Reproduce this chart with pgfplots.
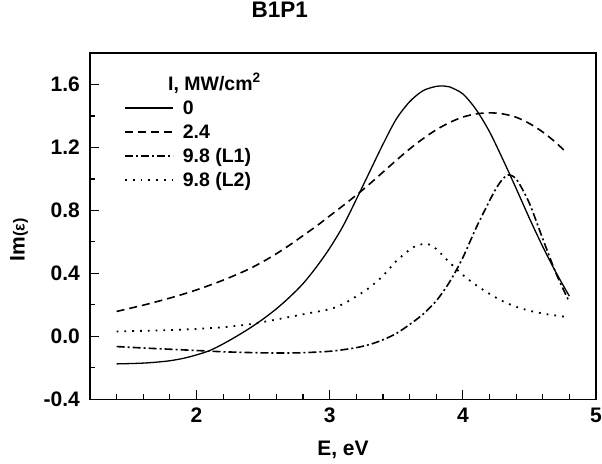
\documentclass[border=0pt]{standalone}
\usepackage{fontspec}
\setmainfont{Liberation Sans}
\usepackage{pgfplots}
\pgfplotsset{compat=1.18}
\begin{document}
\begin{tikzpicture}
\begin{axis}[
  name=ax,
  scale only axis,
  width=506pt, height=346.3pt,
  xmin=1.2, xmax=5, ymin=-0.4, ymax=1.8,
  xtick={2,3,4,5}, xticklabels={2,3,4,5},
  ytick={-0.4,0,0.4,0.8,1.2,1.6}, yticklabels={-0.4,0.0,0.4,0.8,1.2,1.6},
  minor xtick={1.4,1.6,1.8,2.2,2.4,2.6,2.8,3.2,3.4,3.6,3.8,4.2,4.4,4.6,4.8},
  minor ytick={-0.2,0.2,0.6,1.0,1.4},
  tick align=inside,
  xtick pos=left, ytick pos=left,
  major tick length=9pt, minor tick length=5pt,
  tick style={line width=1.2pt, black},
  axis line style={line width=1.6pt},
  tick label style={font=\fontsize{21}{23}\selectfont\bfseries},
  xticklabel style={anchor=base, yshift=-23.5pt},
  yticklabel style={anchor=east, inner xsep=0pt, xshift=-10pt},
  title={B1P1},
  title style={at={(axis description cs:0.375,1.0866)}, anchor=base, inner sep=0pt, font=\fontsize{22.5}{24}\selectfont\bfseries},
  xlabel={E, eV},
  xlabel style={at={(axis description cs:0.5,-0.161)}, anchor=base, inner sep=0pt, font=\fontsize{21}{23}\selectfont\bfseries},
  ylabel={Im{\fontsize{16}{16}\selectfont(ε)}},
  ylabel style={at={(axis description cs:-0.14,0.46)}, anchor=center, inner sep=0pt, font=\fontsize{21}{23}\selectfont\bfseries},
  legend style={draw=none, fill=none, at={(axis description cs:0.0672,0.865)}, anchor=north west,
     inner sep=0pt, outer sep=0pt, row sep=4pt, column sep=8pt,
     nodes={inner sep=1pt, text height=14pt, text depth=4pt},
     font=\fontsize{19.5}{21}\selectfont\bfseries},
  legend cell align=left,
  legend image code/.code={\draw[#1] (0pt,1.7pt) -- (48pt,1.7pt);},
]
\addplot[black, line width=1.3pt, smooth] coordinates {
(1.4,-0.175) (1.5,-0.173) (1.6,-0.170) (1.7,-0.164) (1.8,-0.155) (1.9,-0.140) (2.0,-0.118) (2.1,-0.090) (2.2,-0.048) (2.3,0.000) (2.4,0.052) (2.5,0.110) (2.6,0.175) (2.7,0.250) (2.8,0.335) (2.9,0.440) (3.0,0.560) (3.1,0.700) (3.2,0.870) (3.3,1.045) (3.4,1.220) (3.5,1.380) (3.6,1.490) (3.7,1.560) (3.8,1.588) (3.86,1.590) (3.9,1.585) (4.0,1.540) (4.1,1.440) (4.2,1.300) (4.3,1.125) (4.4,0.940) (4.5,0.750) (4.6,0.570) (4.7,0.405) (4.8,0.255)
};
\addlegendentry{0}
\addplot[black, line width=1.6pt, smooth, dash pattern=on 8pt off 5pt] coordinates {
(1.4,0.158) (1.5,0.178) (1.6,0.198) (1.7,0.220) (1.8,0.243) (1.9,0.268) (2.0,0.295) (2.1,0.325) (2.2,0.357) (2.3,0.392) (2.4,0.430) (2.5,0.475) (2.6,0.525) (2.7,0.580) (2.8,0.640) (2.9,0.700) (3.0,0.765) (3.1,0.830) (3.2,0.897) (3.3,0.968) (3.4,1.043) (3.5,1.118) (3.6,1.190) (3.7,1.255) (3.8,1.312) (3.9,1.358) (4.0,1.393) (4.1,1.413) (4.2,1.420) (4.3,1.413) (4.4,1.392) (4.5,1.352) (4.6,1.298) (4.7,1.230) (4.78,1.165)
};
\addlegendentry{2.4}
\addplot[black, line width=1.6pt, smooth, dash pattern=on 8pt off 3pt on 2pt off 3pt] coordinates {
(1.4,-0.065) (1.6,-0.074) (1.8,-0.082) (2.0,-0.090) (2.2,-0.098) (2.4,-0.103) (2.6,-0.106) (2.8,-0.104) (3.0,-0.095) (3.1,-0.085) (3.2,-0.072) (3.3,-0.052) (3.4,-0.022) (3.5,0.018) (3.6,0.075) (3.7,0.140) (3.8,0.225) (3.9,0.345) (4.0,0.500) (4.1,0.690) (4.2,0.860) (4.25,0.940) (4.3,1.000) (4.34,1.025) (4.38,1.015) (4.42,0.975) (4.5,0.845) (4.6,0.620) (4.7,0.400) (4.79,0.235)
};
\addlegendentry{9.8 (L1)}
\addplot[black, line width=1.8pt, smooth, dash pattern=on 1.8pt off 6pt] coordinates {
(1.4,0.031) (1.6,0.035) (1.8,0.040) (2.0,0.047) (2.2,0.058) (2.4,0.077) (2.6,0.107) (2.8,0.140) (3.0,0.173) (3.1,0.205) (3.2,0.254) (3.3,0.310) (3.4,0.385) (3.5,0.478) (3.6,0.550) (3.65,0.575) (3.7,0.586) (3.75,0.583) (3.8,0.555) (3.9,0.470) (4.0,0.390) (4.1,0.325) (4.2,0.270) (4.3,0.223) (4.4,0.188) (4.5,0.163) (4.6,0.145) (4.7,0.132) (4.78,0.123)
};
\addlegendentry{9.8 (L2)}
\node[anchor=base west, inner sep=0pt, font=\fontsize{19.5}{21}\selectfont\bfseries] at (axis description cs:0.154,0.893) {I, MW/cm\textsuperscript{2}};
\end{axis}
\pgfresetboundingbox
\path (-90pt,-63.7pt) rectangle (512pt,399.3pt);
\end{tikzpicture}
\end{document}
